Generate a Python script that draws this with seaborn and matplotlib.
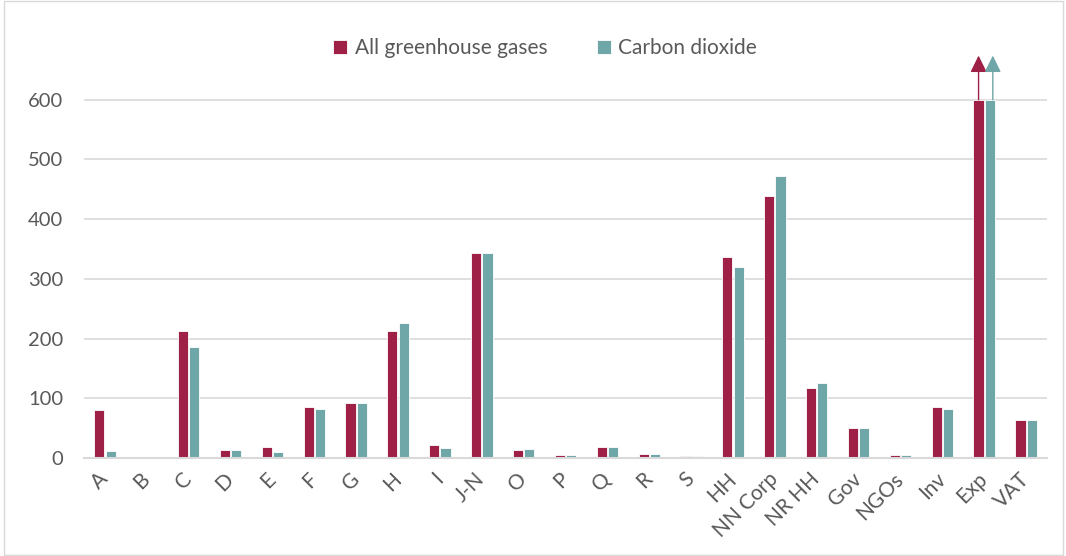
import numpy as np
import pandas as pd
import matplotlib
matplotlib.use("Agg")
import matplotlib.pyplot as plt
import seaborn as sns

categories = ["A", "B", "C", "D", "E", "F", "G", "H", "I", "J-N", "O", "P", "Q", "R", "S",
              "HH", "NN Corp", "NR HH", "Gov", "NGOs", "Inv", "Exp", "VAT"]
all_ghg = [80, 0, 212, 13, 18, 85, 92, 213, 21, 344, 14, 5, 18, 7, 4,
           336, 439, 117, 51, 5, 86, 600, 64]
co2 = [11, 0, 186, 13, 10, 82, 92, 226, 16, 344, 15, 5, 18, 7, 3.5,
       320, 472, 126, 50, 5, 82, 600, 63]
series_names = ["All greenhouse gases", "Carbon dioxide"]
# Categories whose values run beyond the axis and get an arrow
off_scale = ["Exp"]

colors = ["#9E2046", "#6FA6A8"]
text_color = "#595959"
grid_color = "#D9D9D9"

df = pd.DataFrame({
    "category": categories * 2,
    "value": all_ghg + co2,
    "series": [series_names[0]] * len(categories) + [series_names[1]] * len(categories),
})

sns.set_theme(style="white")
plt.rcParams["font.family"] = ["Lato", "DejaVu Sans"]

fig = plt.figure(figsize=(10.66, 5.56), dpi=100)
ax = fig.add_axes([0.0788, 0.1763, 0.9034, 0.7194])

sns.barplot(data=df, x="category", y="value", hue="series", order=categories,
            hue_order=series_names, palette=colors, width=0.54, gap=0.1,
            edgecolor="white", linewidth=0.6, saturation=1, ax=ax)

ax.set_ylim(0, 670)
ax.set_xlim(-0.5, len(categories) - 0.5)
ax.set_yticks(np.arange(0, 601, 100))
ax.yaxis.grid(True, color=grid_color, linewidth=1.2)
ax.set_axisbelow(True)
for s in ["left", "right", "top"]:
    ax.spines[s].set_visible(False)
ax.spines["bottom"].set_color(grid_color)
ax.spines["bottom"].set_linewidth(1.5)
ax.set_xlabel("")
ax.set_ylabel("")
ax.tick_params(axis="y", labelsize=14.5, labelcolor=text_color, length=0, pad=15)
ax.tick_params(axis="x", labelsize=15, labelcolor=text_color, length=0, pad=13)
plt.setp(ax.get_xticklabels(), rotation=45, ha="right", va="center",
         rotation_mode="anchor")

# Arrows above bars that exceed the axis
for cat in off_scale:
    i = categories.index(cat)
    for k, (vals, col) in enumerate(zip([all_ghg, co2], colors)):
        patch = ax.patches[k * len(categories) + i]
        xc = patch.get_x() + patch.get_width() / 2 + (0.07 if k == 1 else 0)
        ax.annotate("", xy=(xc, 674), xytext=(xc, vals[i]),
                    arrowprops=dict(arrowstyle="-|>,head_length=0.85,head_width=0.42",
                                    color=col, linewidth=1.0, shrinkA=0, shrinkB=0),
                    annotation_clip=False)

handles, labels = ax.get_legend_handles_labels()
ax.legend(handles, labels, loc="center", bbox_to_anchor=(0.479, 1.025), ncol=2,
          frameon=False, fontsize=15, labelcolor=text_color, handlelength=0.67,
          handleheight=0.67, handletextpad=0.35, columnspacing=2.4)

# Chart frame
fig.patches.append(plt.Rectangle((0.004, 0.001), 0.993, 0.998, transform=fig.transFigure,
                                 fill=False, edgecolor="#D9D9D9", linewidth=1))

fig.savefig("out.png", dpi=100)
